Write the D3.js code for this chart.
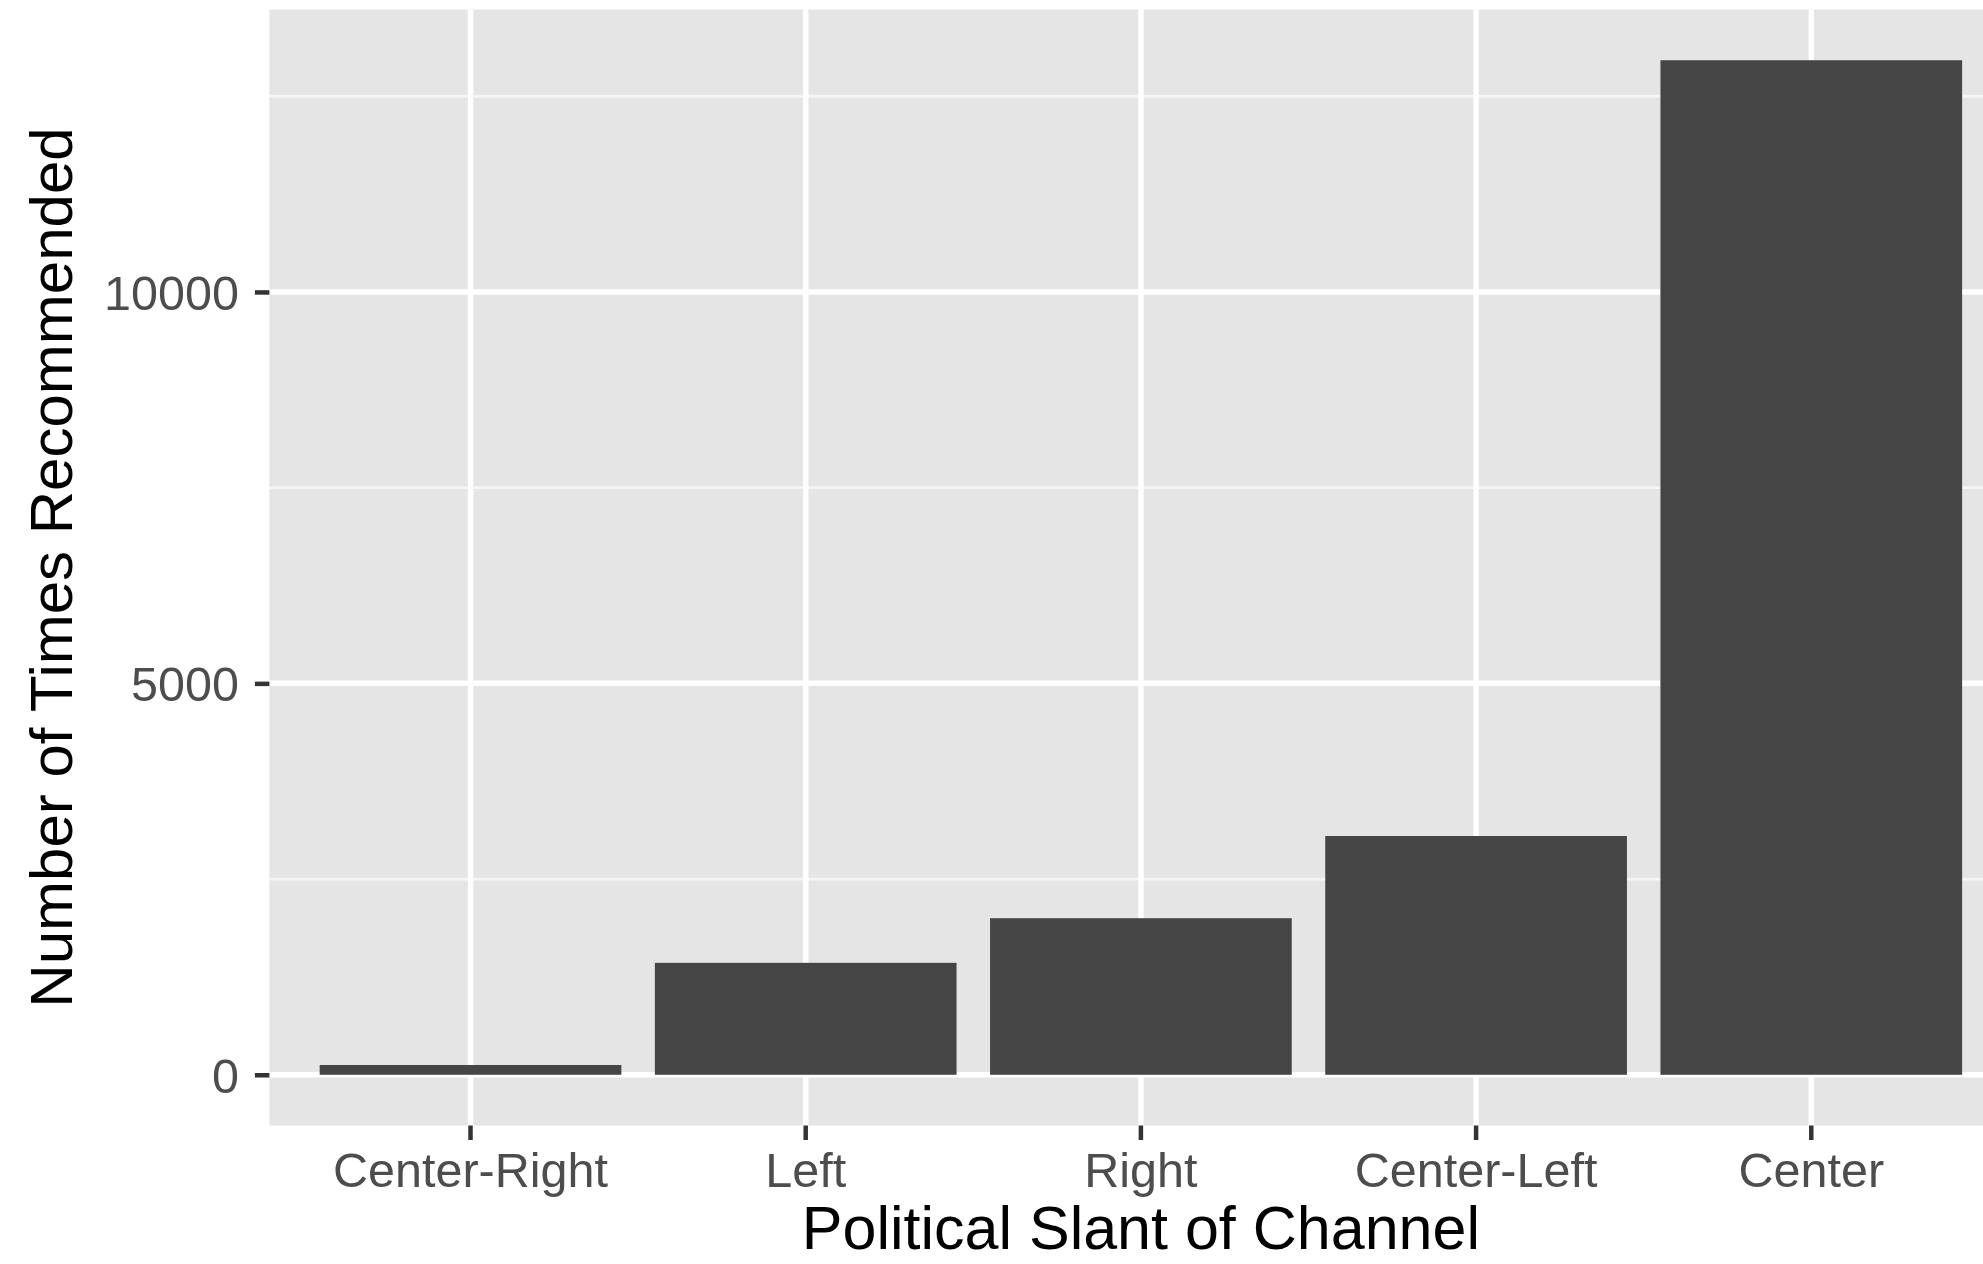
<!DOCTYPE html>
<html>
<head>
<meta charset="utf-8">
<script src="https://cdn.jsdelivr.net/npm/d3@7"></script>
<style>
  html, body { margin: 0; padding: 0; background: #ffffff; overflow: hidden; }
  svg { display: block; font-family: "Liberation Sans", Arial, sans-serif; }
</style>
</head>
<body>
<svg id="chart" width="1983" height="1264"></svg>
<script>
// ---- data ----
const categories = ["Center-Right", "Left", "Right", "Center-Left", "Center"];
const values = [125, 1430, 2000, 3050, 12960];
const yMajorTicks = [0, 5000, 10000];
const yMinorTicks = [2500, 7500, 12500];
const xTitle = "Political Slant of Channel";
const yTitle = "Number of Times Recommended";

// ---- layout ----
const W = 1983, H = 1264;
const panel = { left: 269.4, right: 2012.4, top: 9.5, bottom: 1125.5 };

const svg = d3.select("#chart");

const maxV = d3.max(values);
const x = d3.scaleBand()
  .domain(categories)
  .range([panel.left, panel.right])
  .paddingInner(0.1)
  .paddingOuter(0.15);

const y = d3.scaleLinear()
  .domain([-0.05 * maxV, 1.05 * maxV])
  .range([panel.bottom, panel.top]);

// panel background
svg.append("rect")
  .attr("x", panel.left).attr("y", panel.top)
  .attr("width", panel.right - panel.left)
  .attr("height", panel.bottom - panel.top)
  .attr("fill", "#E5E5E5");

// minor grid
svg.append("g").selectAll("line").data(yMinorTicks).join("line")
  .attr("x1", panel.left).attr("x2", panel.right)
  .attr("y1", d => y(d)).attr("y2", d => y(d))
  .attr("stroke", "#F5F5F5").attr("stroke-width", 2.8);

// major grid
svg.append("g").selectAll("line").data(yMajorTicks).join("line")
  .attr("x1", panel.left).attr("x2", panel.right)
  .attr("y1", d => y(d)).attr("y2", d => y(d))
  .attr("stroke", "#FFFFFF").attr("stroke-width", 5.5);

svg.append("g").selectAll("line").data(categories).join("line")
  .attr("x1", d => x(d) + x.bandwidth() / 2).attr("x2", d => x(d) + x.bandwidth() / 2)
  .attr("y1", panel.top).attr("y2", panel.bottom)
  .attr("stroke", "#FFFFFF").attr("stroke-width", 5.5);

// bars
svg.append("g").selectAll("rect").data(categories).join("rect")
  .attr("x", d => x(d))
  .attr("width", x.bandwidth())
  .attr("y", (d, i) => y(values[i]))
  .attr("height", (d, i) => y(0) - y(values[i]))
  .attr("fill", "#454545");

// y axis (ticks + labels)
const yAxis = d3.axisLeft(y)
  .tickValues(yMajorTicks)
  .tickSize(14.5)
  .tickPadding(16)
  .tickFormat(d3.format("d"));
const gy = svg.append("g")
  .attr("transform", `translate(${panel.left},0)`)
  .call(yAxis);
gy.select(".domain").remove();
gy.selectAll(".tick line").attr("stroke", "#333333").attr("stroke-width", 4.5);
gy.selectAll(".tick text")
  .attr("fill", "#4D4D4D")
  .style("font-size", "48.5px")
  .style("font-family", "'Liberation Sans', Arial, sans-serif")
  .attr("dy", "0.36em");

// x axis
const xAxis = d3.axisBottom(x)
  .tickSize(14.5)
  .tickPadding(13)
  .tickSizeOuter(0);
const gx = svg.append("g")
  .attr("transform", `translate(0,${panel.bottom})`)
  .call(xAxis);
gx.select(".domain").remove();
gx.selectAll(".tick line").attr("stroke", "#333333").attr("stroke-width", 4.5);
gx.selectAll(".tick text")
  .attr("fill", "#4D4D4D")
  .style("font-size", "48.5px")
  .style("font-family", "'Liberation Sans', Arial, sans-serif")
  .attr("dy", "0.71em");

// axis titles
svg.append("text")
  .attr("x", (panel.left + panel.right) / 2)
  .attr("y", 1249)
  .attr("text-anchor", "middle")
  .attr("fill", "#000000")
  .style("font-size", "61px")
  .text(xTitle);

svg.append("text")
  .attr("transform", `translate(72,${(panel.top + panel.bottom) / 2}) rotate(-90)`)
  .attr("text-anchor", "middle")
  .attr("fill", "#000000")
  .style("font-size", "60px")
  .text(yTitle);
</script>
</body>
</html>
